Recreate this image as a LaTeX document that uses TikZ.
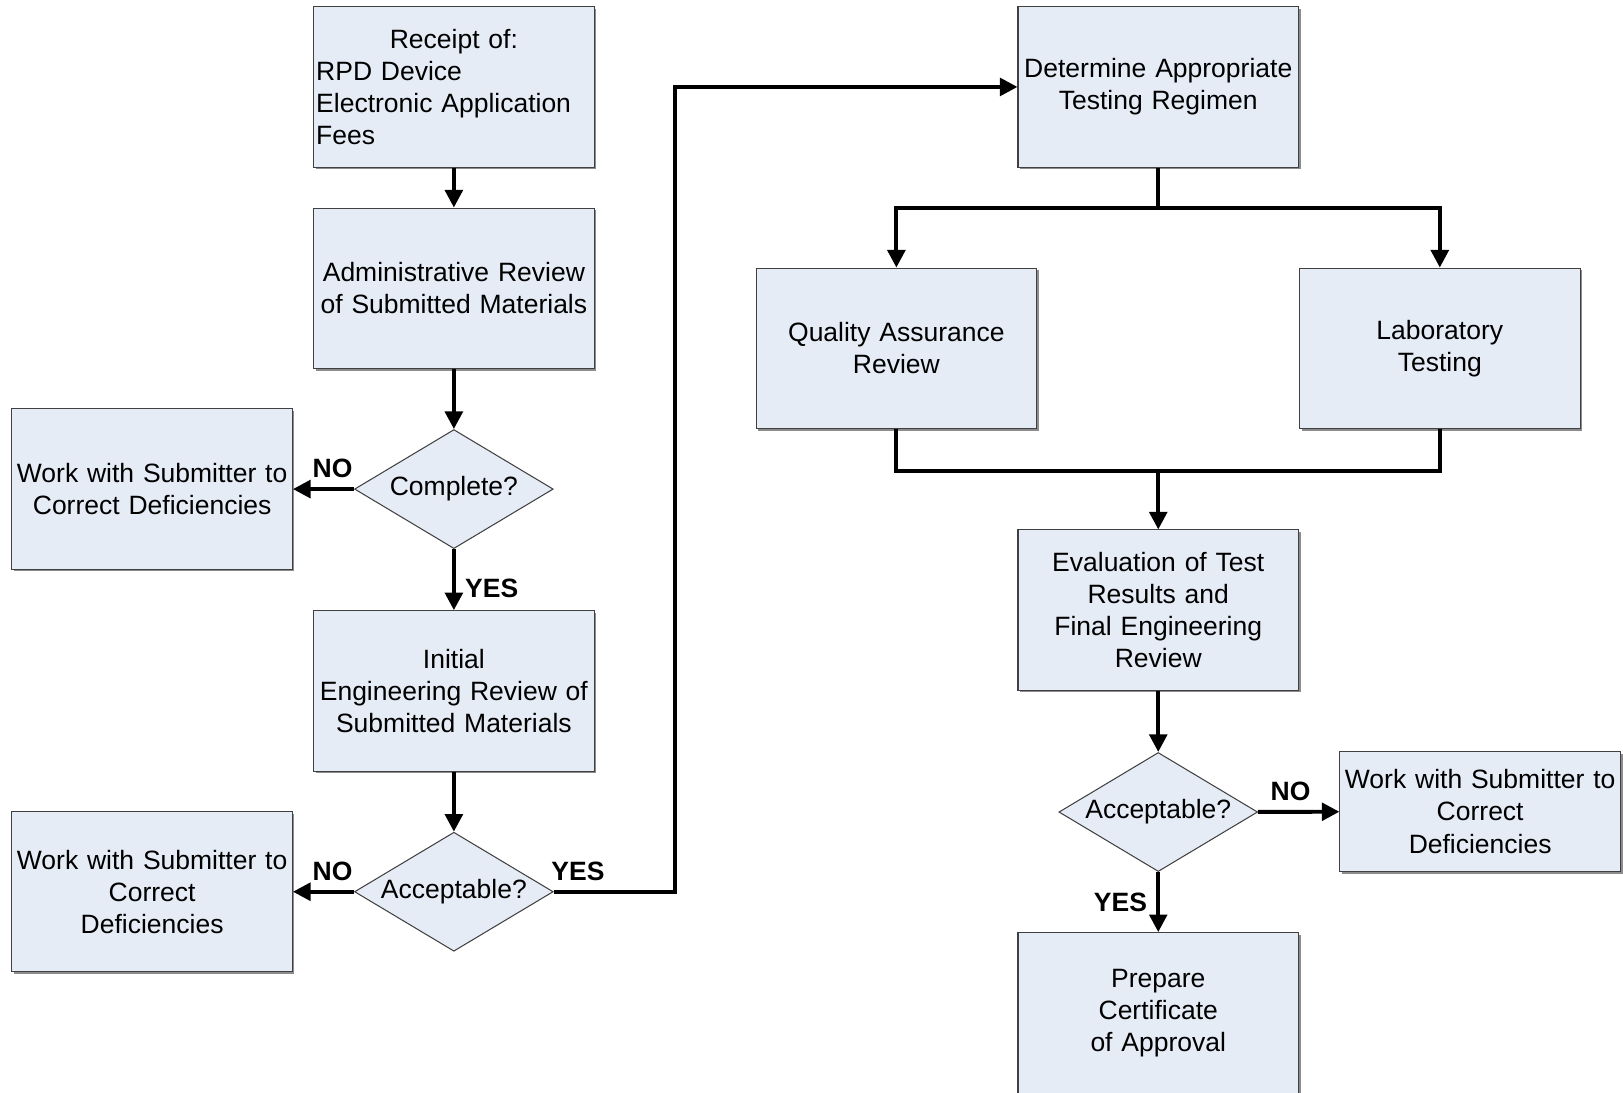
\documentclass[tikz,border=0pt]{standalone}
\usepackage{xcolor}
\usepackage{fontspec}
\setmainfont{Liberation Sans}
\usepackage{tikz}
\usetikzlibrary{shapes.geometric,arrows.meta,shadows}

\definecolor{boxfill}{RGB}{230,236,246}
\definecolor{boxline}{RGB}{64,64,64}

\begin{document}
\begin{tikzpicture}[x=0.5pt,y=-0.5pt,
        font=\fontsize{12.8}{15.5}\selectfont,
        box/.style={rectangle,draw=boxline,line width=0.5pt,fill=boxfill,
            minimum width=135.5pt,minimum height=77.5pt,text width=133pt,
            align=center,inner sep=1pt,
            drop shadow={shadow xshift=1pt,shadow yshift=-1pt,fill=black!45,opacity=1}},
        decision/.style={diamond,draw=boxline,line width=0.5pt,fill=boxfill,
            minimum width=96pt,minimum height=57.5pt,inner sep=0pt,aspect=1.67},
        link/.style={line width=1.9pt,line join=miter},
        arr/.style={link,-{Triangle[length=8.5pt,width=8.5pt]}},
        lbl/.style={font=\fontsize{12.8}{15.5}\selectfont\bfseries,inner sep=4.5pt}]
        \useasboundingbox (0,0) rectangle (1568,1055);

        \node[box] (receipt) at (438.5,84) {\makebox[\linewidth]{Receipt of:}\\[0pt]
            \makebox[\linewidth][l]{RPD Device}\\
            \makebox[\linewidth][l]{Electronic Application}\\
            \makebox[\linewidth][l]{Fees}};
        \node[box] (admin) at (438.5,278.5) {Administrative Review\\of Submitted Materials};
        \node[decision] (complete) at (438.5,472.5) {Complete?};
        \node[box] (work1) at (147,472.5) {Work with Submitter to\\Correct Deficiencies};
        \node[box] (initial) at (438.5,667.5) {Initial\\Engineering Review of\\Submitted Materials};
        \node[decision] (accept1) at (438.5,861.5) {Acceptable?};
        \node[box] (work2) at (147,861.5) {Work with Submitter to\\Correct\\Deficiencies};

        \node[box] (determine) at (1119,84) {Determine Appropriate\\Testing Regimen};
        \node[box] (qa) at (866,336.5) {Quality Assurance\\Review};
        \node[box] (lab) at (1391,336.5) {Laboratory\\Testing};
        \node[box] (eval) at (1119,589.5) {Evaluation of Test\\Results and\\Final Engineering\\Review};
        \node[decision] (accept2) at (1119,784.5) {Acceptable?};
        \node[box,minimum height=58pt] (work3) at (1430,784) {Work with Submitter to\\Correct\\Deficiencies};
        \node[box] (prepare) at (1119,978.5) {Prepare\\Certificate\\of Approval};

        \coordinate (turn) at (652,861.5);
        \coordinate (split) at (1119,201);
        \coordinate (merge) at (1119,455);

        \draw[arr] (receipt) -- (admin);
        \draw[arr] (admin) -- (complete);
        \draw[arr] (complete) -- node[lbl,above,pos=0.35] {NO} (work1);
        \draw[arr] (complete) -- node[lbl,right,pos=0.65] {YES} (initial);
        \draw[arr] (initial) -- (accept1);
        \draw[arr] (accept1) -- node[lbl,above,pos=0.35] {NO} (work2);
        \draw[arr] (accept1.east) -- node[lbl,above,pos=0.2] {YES} (turn) |- (determine.west);

        \draw[link] (determine) -- (split);
        \draw[arr] (split) -| (qa.north);
        \draw[arr] (split) -| (lab.north);
        \draw[link] (qa.south) |- (merge);
        \draw[link] (lab.south) |- (merge);
        \draw[arr] (merge) -- (eval.north);
        \draw[arr] (eval) -- (accept2);
        \draw[arr] (accept2) -- node[lbl,above,pos=0.4] {NO} (work3);
        \draw[arr] (accept2) -- node[lbl,left,pos=0.5] {YES} (prepare);
    \end{tikzpicture}
\end{document}
